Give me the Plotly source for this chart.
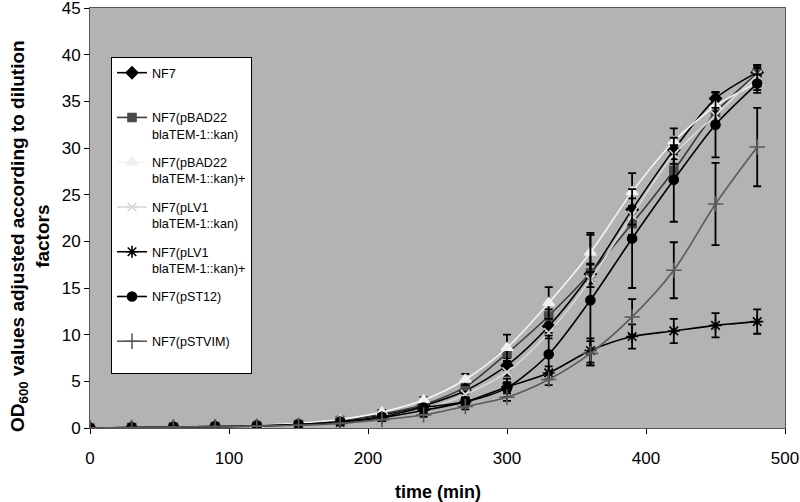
import plotly.graph_objects as go

time_min = [0, 30, 60, 90, 120, 150, 180, 210, 240, 270, 300, 330, 360, 390, 420, 450, 480]

series_names = [
    "NF7",
    "NF7(pBAD22<br>blaTEM-1::kan)",
    "NF7(pBAD22<br>blaTEM-1::kan)+",
    "NF7(pLV1<br>blaTEM-1::kan)",
    "NF7(pLV1<br>blaTEM-1::kan)+",
    "NF7(pST12)",
    "NF7(pSTVIM)",
]

nf7 = [0, 0.05, 0.1, 0.15, 0.25, 0.4, 0.8, 1.4, 2.4, 4.0, 6.7, 10.9, 16.5, 23.4, 29.8, 35.3, 38.1]
nf7_err = [0, 0, 0, 0, 0, 0.05, 0.1, 0.15, 0.2, 0.3, 0.5, 0.7, 1.0, 1.2, 1.0, 0.6, 0.8]

pbad22 = [0, 0.05, 0.1, 0.15, 0.25, 0.4, 0.8, 1.5, 2.5, 4.4, 8.0, 12.0, 16.6, 21.9, 27.6, 33.8, 38.0]
pbad22_err = [0, 0, 0, 0, 0, 0.05, 0.1, 0.15, 0.2, 0.3, 0.5, 0.7, 1.0, 1.2, 1.2, 1.0, 0.8]

pbad22_plus = [0, 0.05, 0.1, 0.15, 0.3, 0.5, 0.9, 1.7, 3.0, 5.2, 8.6, 13.4, 18.8, 25.3, 30.7, 34.5, 37.0]
pbad22_plus_err = [0, 0, 0, 0, 0, 0.05, 0.1, 0.2, 0.3, 0.6, 1.4, 1.7, 2.1, 2.0, 1.4, 0.6, 0.8]

plv1 = [0, 0.05, 0.1, 0.15, 0.25, 0.4, 0.7, 1.2, 2.0, 3.6, 6.0, 10.2, 15.9, 22.8, 29.3, 33.5, 37.8]
plv1_err = [0, 0, 0, 0, 0, 0.05, 0.1, 0.15, 0.2, 0.3, 0.4, 0.6, 0.8, 1.0, 1.0, 0.8, 0.8]

plv1_plus = [0, 0.05, 0.1, 0.15, 0.2, 0.35, 0.6, 1.1, 1.9, 2.8, 4.4, 5.9, 8.3, 9.8, 10.4, 11.0, 11.4]
plv1_plus_err = [0, 0, 0, 0, 0, 0.05, 0.1, 0.15, 0.3, 0.4, 0.5, 0.7, 1.3, 1.3, 1.3, 1.3, 1.3]

pst12 = [0, 0.05, 0.1, 0.15, 0.25, 0.4, 0.7, 1.2, 2.2, 2.8, 4.3, 7.9, 13.7, 20.3, 26.6, 32.5, 36.9]
pst12_err = [0, 0, 0, 0, 0, 0.05, 0.1, 0.15, 0.3, 0.5, 1.0, 2.0, 7.0, 5.3, 4.5, 3.5, 1.0]

pstvim = [0, 0.05, 0.1, 0.15, 0.2, 0.3, 0.5, 0.9, 1.4, 2.3, 3.3, 5.2, 8.0, 11.9, 16.9, 24.0, 30.1]
pstvim_err = [0, 0, 0, 0, 0, 0.05, 0.1, 0.15, 0.2, 0.3, 0.4, 0.6, 1.3, 1.9, 3.0, 4.4, 4.2]

x_ticks = [0, 100, 200, 300, 400, 500]
y_ticks = [0, 5, 10, 15, 20, 25, 30, 35, 40, 45]

values = [nf7, pbad22, pbad22_plus, plv1, plv1_plus, pst12, pstvim]
errors = [nf7_err, pbad22_err, pbad22_plus_err, plv1_err, plv1_plus_err, pst12_err, pstvim_err]

styles = [
    dict(line="#000000", mcolor="#000000", symbol="diamond", size=9, mline="#000000"),
    dict(line="#3a3a3a", mcolor="#4a4a4a", symbol="square", size=8, mline="#4a4a4a"),
    dict(line="#f4f4f4", mcolor="#f0f0f0", symbol="triangle-up", size=10, mline="#f0f0f0"),
    dict(line="#d6d6d6", mcolor="#d6d6d6", symbol="x-thin-open", size=9, mline="#d6d6d6"),
    dict(line="#000000", mcolor="#000000", symbol="asterisk-open", size=10, mline="#000000"),
    dict(line="#000000", mcolor="#000000", symbol="circle", size=9, mline="#000000"),
    dict(line="#5a5a5a", mcolor="#5a5a5a", symbol="cross-thin-open", size=11, mline="#5a5a5a"),
]

fig = go.Figure()
for i, (name, vals, errs, st) in enumerate(zip(series_names, values, errors, styles)):
    label = name if "<br>" in name else name + "<br>&nbsp;"
    fig.add_trace(go.Scatter(
        x=time_min, y=vals, name=label, mode="lines+markers",
        legendgroup="g%d" % i,
        line=dict(color=st["line"], width=1.6, shape="spline", smoothing=0.8),
        marker=dict(symbol=st["symbol"], size=st["size"], color=st["mcolor"],
                    line=dict(color=st["mline"], width=1.6)),
        error_y=dict(type="data", array=errs, visible=True, color="#000000",
                     thickness=1.8, width=4),
    ))

fig.update_layout(
    width=800, height=502,
    margin=dict(l=90, r=15, t=8, b=74),
    paper_bgcolor="#ffffff",
    plot_bgcolor="#b3b3b3",
    font=dict(family="Liberation Sans, Arial, sans-serif", size=17, color="#000000"),
    showlegend=True,
    legend=dict(
        x=(111 - 90) / 695, y=(428 - 57) / 420, xanchor="left", yanchor="top",
        bgcolor="#ffffff", bordercolor="#000000", borderwidth=1,
        font=dict(size=12.6, color="#000000"),
        valign="top", traceorder="grouped", tracegroupgap=9,
    ),
    xaxis=dict(
        range=[0, 500], tickvals=x_ticks, ticktext=[str(v) for v in x_ticks],
        showgrid=False, zeroline=False, showline=True, linecolor="#555555",
        linewidth=1, mirror=True, ticks="outside", ticklen=5, tickcolor="#000000",
        ticklabelstandoff=10, automargin=False, ticklabeloverflow="allow",
    ),
    yaxis=dict(
        range=[0, 45], tickvals=y_ticks, ticktext=[str(v) for v in y_ticks],
        showgrid=False, zeroline=False, showline=True, linecolor="#555555",
        linewidth=1, mirror=True, ticks="outside", ticklen=5, tickcolor="#000000",
        automargin=False, ticklabeloverflow="allow",
    ),
    annotations=[
        dict(text="<b>time (min)</b>", xref="paper", yref="paper",
             x=0.5, y=(428 - 492) / 420, xanchor="center", yanchor="middle",
             showarrow=False, font=dict(size=18)),
        dict(text="<b>OD<sub>600</sub> values adjusted according to dilution<br>factors</b>",
             xref="paper", yref="paper", x=(30 - 90) / 695, y=(428 - 236) / 420,
             xanchor="center", yanchor="middle", textangle=-90,
             showarrow=False, font=dict(size=19)),
    ],
)

fig.write_html("out.html", config={"displayModeBar": False},
               post_script="document.body.style.margin='0';document.body.style.overflow='hidden';")
